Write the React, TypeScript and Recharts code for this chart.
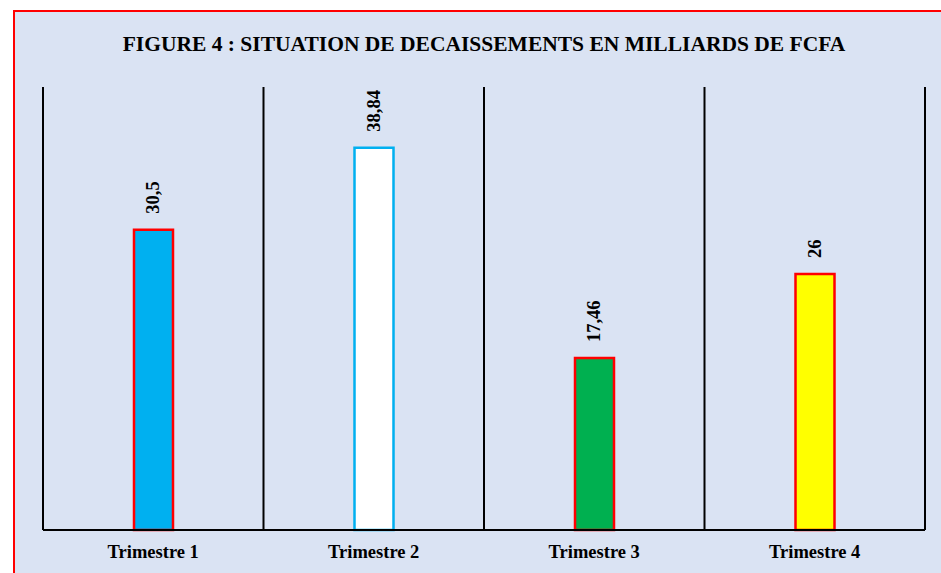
import { BarChart, Bar, XAxis, YAxis, CartesianGrid, Cell, LabelList } from 'recharts'

// données
const trimestres = ['Trimestre 1', 'Trimestre 2', 'Trimestre 3', 'Trimestre 4']
const decaissements = [30.5, 38.84, 17.46, 26]
const fills = ['#00b0f0', '#ffffff', '#00b050', '#ffff00']
const strokes = ['#ff0000', '#00b0f0', '#ff0000', '#ff0000']

const data = trimestres.map((name, i) => ({ name, value: decaissements[i] }))

const font = '"Liberation Serif", "Times New Roman", serif'

// étiquette de valeur verticale au-dessus de la barre
const renderValue = (props: any) => {
  const { x, y, width, value } = props
  const cx = x + width / 2
  const ty = y - 16
  return (
    <text
      x={cx}
      y={ty}
      transform={`rotate(-90 ${cx} ${ty})`}
      textAnchor="start"
      dominantBaseline="central"
      fontFamily={font}
      fontWeight="bold"
      fontSize={18.5}
      fill="#000"
    >
      {String(value).replace('.', ',')}
    </text>
  )
}

export default function App() {
  return (
    <>
      <div
        style={{
          position: 'absolute',
          left: 13,
          top: 10,
          width: 928,
          height: 563,
          border: '2px solid #ff0000',
          borderRight: 'none',
          borderBottom: 'none',
          background: '#dae3f3',
          boxSizing: 'border-box'
        }}
      />
      <div
        style={{
          position: 'absolute',
          left: 43,
          top: 33,
          width: 882,
          textAlign: 'center',
          fontFamily: font,
          fontWeight: 'bold',
          fontSize: 21.5,
          lineHeight: '22px',
          color: '#000',
          whiteSpace: 'nowrap'
        }}
      >
        FIGURE 4 : SITUATION DE DECAISSEMENTS EN MILLIARDS DE FCFA
      </div>
      <div style={{ position: 'absolute', left: 0, top: 0 }}>
        <BarChart
          width={941}
          height={573}
          data={data}
          margin={{ top: 87, right: 16, left: 43, bottom: 13 }}
        >
          <CartesianGrid
            horizontal={false}
            stroke="#000"
            strokeWidth={2}
            verticalCoordinatesGenerator={({ offset }: any) =>
              [0, 1, 2, 3, 4].map(i => offset.left + (i * offset.width) / trimestres.length)
            }
          />
          <XAxis
            dataKey="name"
            height={30}
            axisLine={{ stroke: '#000', strokeWidth: 2 }}
            tickLine={false}
            tickMargin={9}
            tick={{ fill: '#000', fontFamily: font, fontWeight: 'bold', fontSize: 18.5 }}
          />
          <YAxis hide domain={[0, 45]} />
          <Bar dataKey="value" barSize={39} strokeWidth={2.5} isAnimationActive={false}>
            {data.map((d, i) => (
              <Cell key={d.name} fill={fills[i]} stroke={strokes[i]} />
            ))}
            <LabelList dataKey="value" content={renderValue} />
          </Bar>
        </BarChart>
      </div>
    </>
  )
}
